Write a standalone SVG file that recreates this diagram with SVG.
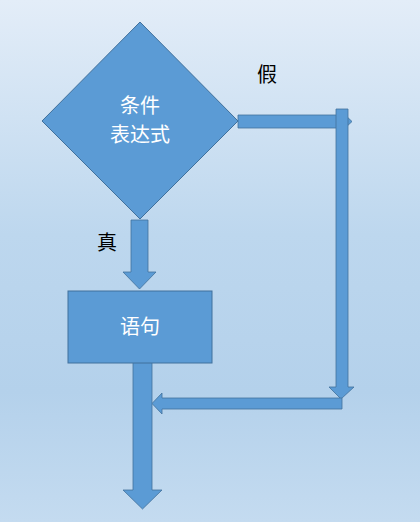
<svg xmlns="http://www.w3.org/2000/svg" width="420" height="522" viewBox="0 0 420 522">
<defs>
<linearGradient id="bg" x1="0" y1="0" x2="0" y2="1">
<stop offset="0" stop-color="#e3edf8"/>
<stop offset="0.45" stop-color="#bdd7ee"/>
<stop offset="0.75" stop-color="#b4d1eb"/>
<stop offset="1" stop-color="#c4dbf0"/>
</linearGradient>
<style>
.shape{fill:#5b9bd5;stroke:#41719c;stroke-width:1}
.arrow{fill:#5b9bd5;stroke:#41719c;stroke-width:0.8}
.w{fill:#ffffff;font-family:"Noto Sans CJK SC","Noto Sans",sans-serif;font-size:20px;text-anchor:middle}
.lbl{fill:#000000;font-family:"Noto Sans CJK SC",serif;font-size:20px;text-anchor:middle}
</style>
</defs>
<rect x="0" y="0" width="420" height="522" fill="url(#bg)"/>
<g id="connectors">
<polygon class="arrow" points="131,220 148,220 148,272 156,272 139.5,289 123,272 131,272"/>
<polygon class="arrow" points="238,115 343,115 343,113 352,121.5 343,130 343,128 238,128"/>
<polygon class="arrow" points="336,109 348,109 348,387 354,387 341,399 329,387 336,387"/>
<polygon class="arrow" points="342,398 342,409 162,409 162,414 152,403.5 162,393 162,398"/>
<polygon class="arrow" points="133,362 152,362 152,490 162,490 142.5,509 123,490 133,490"/>
</g>
<g id="decision">
<polygon class="shape" points="140,22 238,121 140,219 42,121"/>
<text class="w" x="140" y="113">条件</text>
<text class="w" x="140" y="142">表达式</text>
</g>
<g id="statement">
<rect class="shape" x="68" y="291" width="144" height="72"/>
<text class="w" x="140" y="334" font-size="21">语句</text>
</g>
<g id="label-true">
<text class="lbl" x="107" y="250">真</text>
</g>
<g id="label-false">
<text class="lbl" x="267" y="82">假</text>
</g>
</svg>
